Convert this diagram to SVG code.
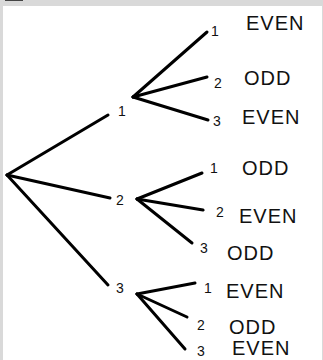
<svg xmlns="http://www.w3.org/2000/svg" width="323" height="360" viewBox="0 0 323 360">
<style>
.edge{stroke:#000;stroke-width:3;stroke-linecap:round;fill:none}
.num{font-family:"Liberation Sans",Arial,sans-serif;font-size:14px;fill:#111}
.lab{font-family:"Liberation Sans",Arial,sans-serif;font-size:20px;fill:#111;letter-spacing:1px}
</style>
<rect x="0" y="0" width="323" height="360" fill="#d9d9d9"/>
<rect x="3" y="6" width="319" height="354" fill="#fff"/>
<rect x="5" y="0" width="18" height="1" fill="#444"/>
<g id="connectors">
<line class="edge" x1="7" y1="175" x2="108" y2="115"/>
<line class="edge" x1="7" y1="175" x2="110" y2="198"/>
<line class="edge" x1="7" y1="175" x2="108" y2="285"/>
<line class="edge" x1="133" y1="97" x2="207" y2="32"/>
<line class="edge" x1="133" y1="97" x2="207" y2="77"/>
<line class="edge" x1="133" y1="97" x2="208" y2="120"/>
<line class="edge" x1="137" y1="199" x2="202" y2="173"/>
<line class="edge" x1="137" y1="199" x2="203" y2="210"/>
<line class="edge" x1="137" y1="199" x2="192" y2="243"/>
<line class="edge" x1="137" y1="294" x2="195" y2="283"/>
<line class="edge" x1="137" y1="294" x2="187" y2="317"/>
<line class="edge" x1="137" y1="294" x2="185" y2="349"/>
</g>
<g id="n1"><text class="num" x="118" y="116">1</text></g>
<g id="n2"><text class="num" x="116" y="205">2</text></g>
<g id="n3"><text class="num" x="116" y="293">3</text></g>
<g id="n11"><text class="num" x="211" y="36">1</text><text class="lab" x="246" y="30">EVEN</text></g>
<g id="n12"><text class="num" x="214" y="88">2</text><text class="lab" x="244" y="85">ODD</text></g>
<g id="n13"><text class="num" x="213" y="126">3</text><text class="lab" x="242" y="124">EVEN</text></g>
<g id="n21"><text class="num" x="210" y="173">1</text><text class="lab" x="242" y="175">ODD</text></g>
<g id="n22"><text class="num" x="216" y="217">2</text><text class="lab" x="239" y="223">EVEN</text></g>
<g id="n23"><text class="num" x="200" y="253">3</text><text class="lab" x="227" y="260">ODD</text></g>
<g id="n31"><text class="num" x="204" y="293">1</text><text class="lab" x="226" y="298">EVEN</text></g>
<g id="n32"><text class="num" x="197" y="330">2</text><text class="lab" x="229" y="334">ODD</text></g>
<g id="n33"><text class="num" x="197" y="356">3</text><text class="lab" x="232" y="355">EVEN</text></g>
</svg>
